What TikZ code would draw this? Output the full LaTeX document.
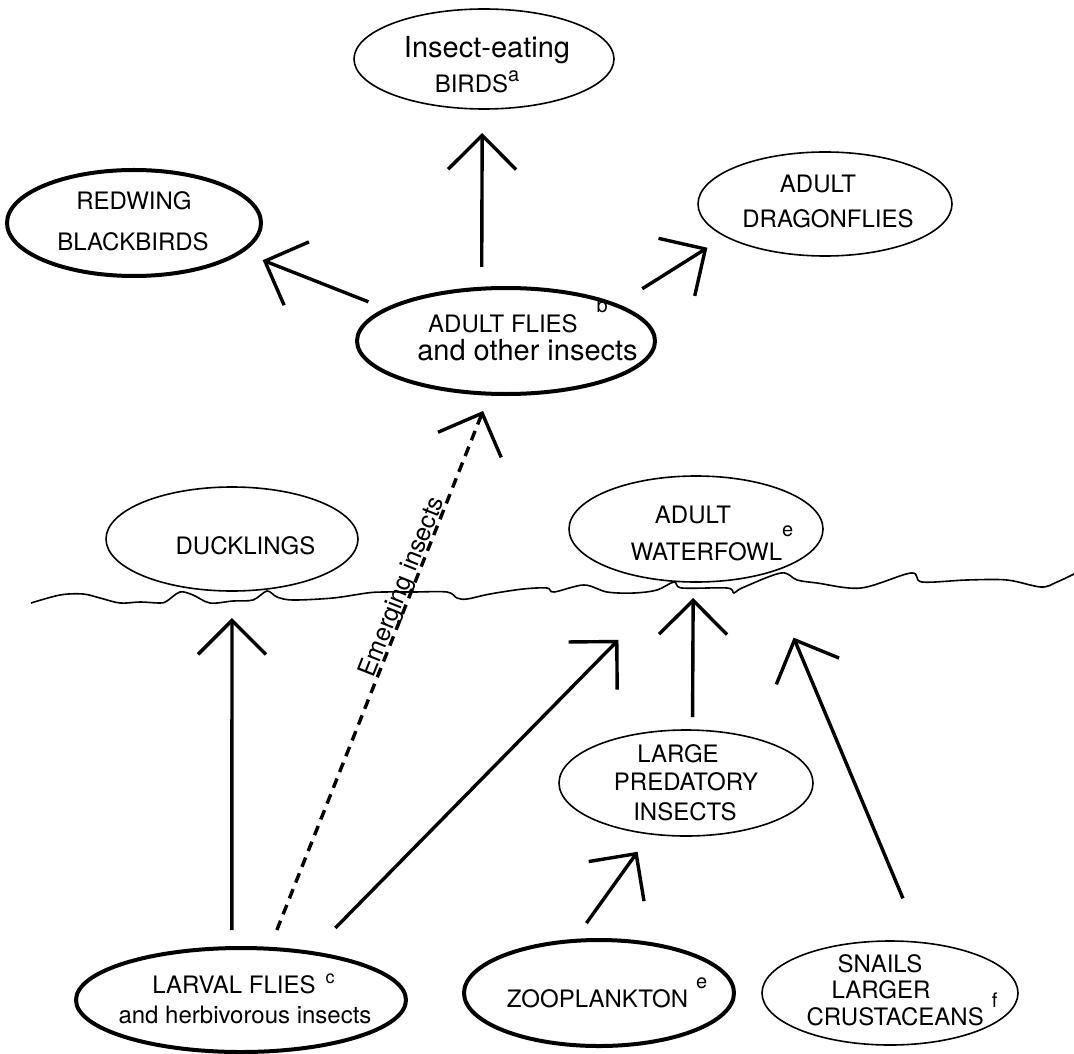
\documentclass[tikz,border=0pt]{standalone}
\usepackage{fontspec}
\setmainfont{TeX Gyre Heros}
\usetikzlibrary{arrows.meta,shapes.geometric}
\newcommand{\sps}[2]{\raisebox{#1}{\fontsize{10}{10}\selectfont #2}}
\begin{document}
\begin{tikzpicture}[x=0.5pt,y=-0.5pt,
  ell/.style={ellipse, draw, inner sep=0pt, outer sep=0pt, line width=0.8pt},
  thickell/.style={ell, line width=2pt},
  lbl/.style={inner sep=0pt, anchor=base, font=\fontsize{12}{14}\selectfont},
  arr/.style={line width=1.7pt, -{Straight Barb[length=17pt, width=34pt]}},
  wave/.style={line width=0.8pt}]
\useasboundingbox (0,0) rectangle (1074,1053);

% ellipses
\node[ell, minimum width=130pt, minimum height=50pt] (birds) at (484,59) {};
\node[thickell, minimum width=127pt, minimum height=53pt] (redwing) at (134,223) {};
\node[ell, minimum width=127pt, minimum height=52pt] (dragon) at (825,204) {};
\node[thickell, minimum width=149pt, minimum height=53pt] (flies) at (506,341) {};
\node[ell, minimum width=126pt, minimum height=52pt] (duck) at (232,539) {};
\node[ell, minimum width=127pt, minimum height=53pt] (fowl) at (696,529) {};
\node[ell, minimum width=127pt, minimum height=53pt] (pred) at (686,783) {};
\node[thickell, minimum width=165pt, minimum height=52pt] (larval) at (241,1000) {};
\node[thickell, minimum width=135pt, minimum height=53pt] (zoo) at (599,993) {};
\node[ell, minimum width=128pt, minimum height=52pt] (snails) at (890,993) {};

% texts
\node[lbl, font=\fontsize{14.5}{16}\selectfont] (birdsA) at (487,58) {Insect-eating};
\node[lbl] (birdsB) at (477,93) {BIRDS\sps{5.5pt}{a}};
\node[lbl] (redwingA) at (134,210) {REDWING};
\node[lbl] (redwingB) at (133,251) {BLACKBIRDS};
\node[lbl] (dragonA) at (818,193) {ADULT};
\node[lbl] (dragonB) at (828,228) {DRAGONFLIES};
\node[lbl] (fliesA) at (518,332) {ADULT FLIES\hspace{9.5pt}\sps{9.5pt}{b}};
\node[lbl, font=\fontsize{14.5}{16}\selectfont] (fliesB) at (527.5,360) {and other insects};
\node[lbl] (duckA) at (245.5,554) {DUCKLINGS};
\node[lbl] (fowlA) at (693,523) {ADULT};
\node[lbl] (fowlB) at (712,560) {WATERFOWL\sps{12pt}{e}};
\node[lbl] (predA) at (678,762) {LARGE};
\node[lbl] (predB) at (686,790) {PREDATORY};
\node[lbl] (predC) at (685,820) {INSECTS};
\node[lbl] (larvalA) at (243.5,993) {LARVAL FLIES\hspace{5pt}\raisebox{5pt}{\fontsize{9}{9}\selectfont c}};
\node[lbl] (larvalB) at (245,1023) {and herbivorous insects};
\node[lbl] (zooA) at (607,1007) {ZOOPLANKTON\hspace{4pt}\sps{9.5pt}{e}};
\node[lbl] (snailsA) at (880,972) {SNAILS};
\node[lbl] (snailsB) at (881,998) {LARGER};
\node[lbl] (snailsC) at (902,1025) {CRUSTACEANS\hspace{4pt}\sps{9pt}{f}};

% water surface
\draw[wave] plot[smooth, tension=0.55] coordinates {
 (31,603) (60,595) (83,594) (100,598) (120,603) (140,602) (160,603) (167,601)
 (180,592) (193,595) (210,603) (233,601) (253,600) (267,591) (277,597) (293,600)
 (333,598) (367,593) (383,592) (413,592) (447,592) (457,598) (467,599) (490,594)
 (523,589) (547,588) (554,592) (584,585) (607,592) (634,593) (657,590) (674,582)
 (682,588) (727,588) (734,593) (742,588) (781,573) (797,580) (817,583) (861,588)
 (911,573) (922,582) (967,580) (1007,580) (1041,587) (1057,582) (1074,574)};

% arrows
\draw[arr, shorten <=10.9pt, shorten >=12pt] (flies.115) -- (birds.268);
\draw[arr, shorten <=10pt, shorten >=11.7pt] (flies.165) -- (redwing.345);
\draw[arr, shorten <=15.5pt, shorten >=10.7pt] (flies.18) -- (dragon.198);
\draw[arr, dash pattern=on 5pt off 3.5pt, shorten <=10.1pt, shorten >=9.3pt] (larval.61) --
  node[sloped, anchor=base, yshift=1.5pt, pos=0.645, inner sep=0pt, font=\fontsize{12.5}{14}\selectfont] (emlbl) {Emerging insects}
  (flies.253);
\draw[arr, shorten <=9pt, shorten >=13.5pt] (larval.100) -- (duck.south);
\draw[arr, shorten <=17.5pt, shorten >=41pt] (larval.34) -- (fowl.249);
\draw[arr, shorten <=6.5pt, shorten >=8pt] (pred.83) -- (fowl.267);
\draw[arr, shorten <=24pt, shorten >=35pt] (snails.58) -- (fowl.328);
\draw[arr, shorten <=11pt, shorten >=11pt] (zoo.116) -- (pred.235);
\end{tikzpicture}
\end{document}
